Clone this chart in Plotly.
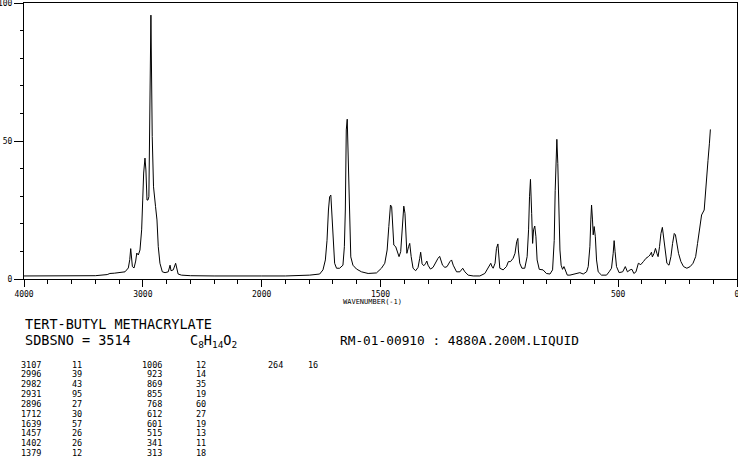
import plotly.graph_objects as go

# ---- spectrum (wavenumber cm-1, relative intensity) ----
wavenumber = [4000, 3800, 3600, 3400, 3300, 3277, 3240, 3200, 3168, 3150, 3122, 3110, 3102, 3095,
              3088, 3074, 3060, 3051, 3038, 3024, 3010, 3001, 2993, 2982, 2974, 2965, 2957, 2949,
              2941, 2932, 2921, 2910, 2893, 2881, 2870, 2856, 2836, 2813, 2786, 2771, 2763, 2744,
              2724, 2714, 2703, 2675, 2600, 2400, 2200, 2000, 1900, 1798, 1756, 1742, 1732, 1725,
              1719, 1714, 1709, 1705, 1700, 1693, 1685, 1672, 1658, 1652, 1648, 1644, 1640, 1636,
              1631, 1625, 1616, 1601, 1580, 1552, 1517, 1496, 1482, 1472, 1465, 1458, 1453, 1448,
              1444, 1436, 1429, 1422, 1415, 1408, 1402, 1397, 1393, 1389, 1382, 1377, 1371, 1363,
              1352, 1342, 1335, 1331, 1325, 1318, 1311, 1305, 1300, 1290, 1279, 1267, 1258, 1251,
              1239, 1229, 1220, 1208, 1201, 1194, 1180, 1166, 1154, 1145, 1131, 1110, 1082, 1061,
              1047, 1036, 1032, 1026, 1018, 1012, 1006, 1002, 998, 984, 970, 962, 953, 942, 934,
              927, 922, 920, 914, 905, 893, 883, 877, 873, 869, 864, 860, 856, 851, 846, 841, 832,
              816, 802, 787, 776, 769, 765, 761, 758, 754, 750, 745, 740, 734, 728, 722, 714, 703,
              682, 661, 647, 633, 626, 619, 615, 612, 608, 605, 601, 596, 591, 584, 570, 549, 538,
              528, 521, 517, 513, 507, 496, 481, 470, 461, 450, 442, 434, 425, 415, 405, 394, 383,
              373, 366, 360, 356, 349, 343, 337, 332, 326, 320, 314, 309, 303, 295, 286, 278, 271,
              264, 259, 253, 246, 236, 225, 211, 197, 185, 174, 166, 157, 149, 138, 133, 127, 122,
              116, 112]
intensity = [1.1, 1.2, 1.1, 1.2, 1.6, 2.0, 2.1, 2.3, 2.5, 2.6, 4.0, 7.0, 11.0, 7.0,
             4.5, 4.0, 6.5, 9.4, 8.7, 10.5, 17.8, 28.6, 38.4, 43.8, 39.5, 28.6, 28.6, 29.8,
             56.5, 95.6, 51.6, 33.4, 26.2, 21.4, 11.7, 5.7, 2.6, 2.3, 2.6, 5.0, 3.0, 3.3,
             5.7, 3.9, 1.8, 1.4, 1.2, 1.1, 1.2, 1.1, 1.1, 1.4, 1.8, 3.3, 6.9, 14.0,
             25.0, 29.8, 30.4, 25.0, 14.0, 5.7, 3.9, 3.9, 5.0, 11.7, 25.0, 54.0, 57.9, 43.0,
             19.0, 8.0, 5.0, 3.6, 2.6, 2.0, 2.2, 3.9, 5.7, 10.5, 19.0, 26.8, 26.2, 19.0,
             12.3, 11.7, 9.9, 8.1, 9.9, 19.0, 26.4, 23.8, 15.3, 9.3, 11.7, 12.9, 8.1, 3.9,
             3.0, 4.2, 7.5, 9.7, 5.5, 4.8, 5.5, 6.5, 5.0, 3.6, 4.2, 6.2, 7.5, 8.2,
             5.0, 4.2, 4.5, 6.3, 6.9, 5.0, 2.6, 2.6, 3.9, 2.6, 1.4, 1.1, 1.1, 2.0,
             3.9, 5.7, 4.7, 3.9, 5.7, 11.1, 12.7, 8.1, 3.9, 3.3, 4.5, 6.3, 6.3, 7.5, 9.3,
             13.5, 14.7, 10.5, 5.7, 3.9, 3.9, 8.1, 17.8, 29.8, 36.1, 23.8, 12.9, 17.8, 19.2, 15.3, 6.9, 3.5,
             3.3, 2.0, 1.8, 3.3, 14.0, 32.0, 46.7, 50.6, 41.9, 23.8, 10.5, 5.0, 3.5, 4.5, 3.3, 1.4, 1.4,
             1.8, 2.3, 1.8, 2.6, 4.5, 11.7, 21.4, 26.8, 21.4, 16.0, 19.0, 15.3, 6.9, 2.6, 1.4, 1.4, 2.6,
             3.9, 9.3, 13.9, 9.9, 4.5, 2.3, 2.6, 4.5, 2.6, 3.3, 3.5, 2.0, 2.6, 5.7, 5.2, 6.3, 7.5,
             8.1, 8.7, 9.7, 8.0, 9.3, 11.1, 9.3, 8.1, 11.7, 16.5, 18.7, 15.3, 9.3, 5.7, 5.0, 8.1, 12.9,
             16.5, 16.0, 12.3, 9.3, 6.3, 4.5, 3.9, 4.5, 5.7, 8.1, 12.9, 19.0, 23.2, 25.0, 29.8, 37.1, 43.0,
             49.2, 54.2]

# ---- peak table ----
table_wn_1 = ["3107", "2996", "2982", "2931", "2896", "1712", "1639", "1457", "1402", "1379"]
table_int_1 = ["11", "39", "43", "95", "27", "30", "57", "26", "26", "12"]
table_wn_2 = ["1006", "923", "869", "855", "768", "612", "601", "515", "341", "313"]
table_int_2 = ["12", "14", "35", "19", "60", "27", "19", "13", "11", "18"]
table_wn_3 = ["264"]
table_int_3 = ["16"]

# ---- axis labels ----
x_tick_labels = ["4000", "3000", "2000", "1500", "500", "0"]
y_tick_labels = ["0", "50", "100"]


def to_axis(w):
    """Scale-change axis: 4000-2000 compressed, 2000-0 expanded two-fold."""
    return 4000 - w if w >= 2000 else 2000 + 2 * (2000 - w)


x_pos = [to_axis(w) for w in wavenumber]
x_tick_pos = [to_axis(float(t)) for t in x_tick_labels]

fig = go.Figure()
fig.add_trace(go.Scatter(x=x_pos, y=intensity, mode="lines",
                         line=dict(color="black", width=1), hoverinfo="skip",
                         showlegend=False))

W, H = 738, 457
L, R, T, B = 24, 1, 3, 178
pw, ph = W - L - R, H - T - B


def px(x):
    return (x - L) / pw


def py(y):
    return (H - B - y) / ph


MONO = "DejaVu Sans Mono"
ann = []


def text(x, y, s, size, anchor="left"):
    ann.append(dict(x=px(x), y=py(y), xref="paper", yref="paper", text=s, showarrow=False,
                    xanchor=anchor, yanchor="middle",
                    font=dict(family=MONO, size=size, color="black")))


text(23, 323.5, "TERT-BUTYL METHACRYLATE", 13.5)
text(23, 340, "SDBSNO = 3514", 13.5)
text(188, 341, "C<sub>8</sub>H<sub>14</sub>O<sub>2</sub>", 13.5)
text(338, 340, "RM-01-00910 : 4880A.200M.LIQUID", 12.8)
text(372, 301.5, "WAVENUMBER(-1)", 7, anchor="center")

row0, dr = 364.5, 9.85
for i, (a, b) in enumerate(zip(table_wn_1, table_int_1)):
    text(43, row0 + i * dr, a, 8.5, anchor="right")
    text(70, row0 + i * dr, b, 8.5)
for i, (a, b) in enumerate(zip(table_wn_2, table_int_2)):
    text(164, row0 + i * dr, a, 8.5, anchor="right")
    text(194, row0 + i * dr, b, 8.5)
for i, (a, b) in enumerate(zip(table_wn_3, table_int_3)):
    text(285, row0 + i * dr, a, 8.5, anchor="right")
    text(306, row0 + i * dr, b, 8.5)

fig.update_layout(
    width=W, height=H,
    margin=dict(l=L, r=R, t=T, b=B, pad=0, autoexpand=False),
    paper_bgcolor="white", plot_bgcolor="white",
    annotations=ann,
    xaxis=dict(range=[0, 6000], showgrid=False, zeroline=False, showline=True,
               linecolor="black", linewidth=1, mirror=True, automargin=False,
               ticklabeloverflow="allow",
               ticks="outside", ticklen=7, tickcolor="black", tickwidth=1,
               tickmode="array", tickvals=x_tick_pos, ticktext=x_tick_labels,
               tickfont=dict(family=MONO, size=8, color="black"),
               minor=dict(ticks="outside", ticklen=4, dtick=200, tick0=0,
                          tickcolor="black", tickwidth=1, showgrid=False)),
    yaxis=dict(range=[0, 100], showgrid=False, zeroline=False, showline=True,
               linecolor="black", linewidth=1, mirror=True, automargin=False,
               ticklabeloverflow="allow",
               ticks="outside", ticklen=9, tickcolor="black", tickwidth=1,
               tickmode="array", tickvals=[0, 50, 100], ticktext=y_tick_labels,
               tickfont=dict(family=MONO, size=8, color="black"),
               minor=dict(ticks="outside", ticklen=3, dtick=10, tick0=0,
                          tickcolor="black", tickwidth=1, showgrid=False)),
)

fig.write_html("out.html", config={"displayModeBar": False},
               post_script="document.body.style.margin='0';document.body.style.padding='0';")
